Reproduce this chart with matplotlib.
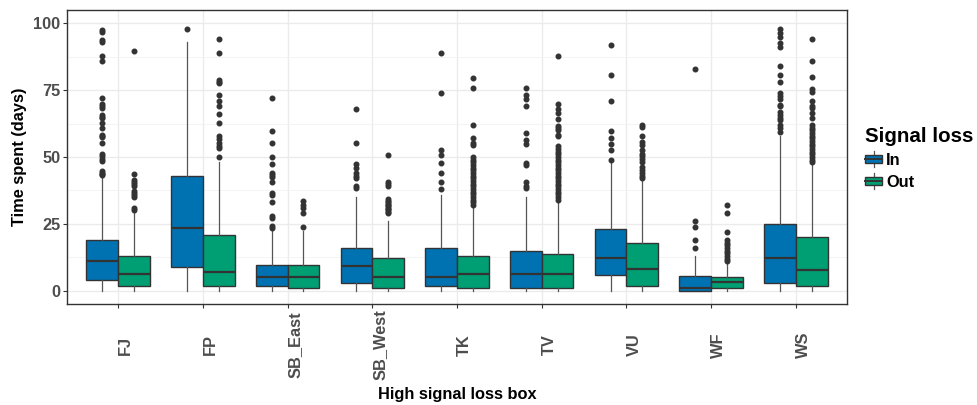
import matplotlib
matplotlib.use('Agg')
import matplotlib.pyplot as plt
from matplotlib.legend_handler import HandlerBase
from matplotlib.patches import Patch, Rectangle
from matplotlib.lines import Line2D
from matplotlib.ticker import MultipleLocator

plt.rcParams['font.family'] = ['Liberation Sans', 'DejaVu Sans']
plt.rcParams['font.weight'] = 'bold'

boxes = ['FJ', 'FP', 'SB_East', 'SB_West', 'TK', 'TV', 'VU', 'WF', 'WS']
groups = ['In', 'Out']
fill = {'In': '#0072B2', 'Out': '#009E73'}

# (whisker low, q1, median, q3, whisker high) in days
in_stats = [
    (0, 4.0, 11.2, 19.0, 42.3),
    (0, 8.8, 23.4, 43.0, 92.9),
    (0, 1.9, 5.2, 9.7, 22.8),
    (0, 3.0, 9.1, 15.8, 34.9),
    (0, 1.9, 5.2, 15.8, 35.9),
    (0, 0.9, 6.1, 14.8, 34.9),
    (0, 5.9, 12.2, 22.9, 47.7),
    (0, 0.0, 1.0, 5.4, 13.1),
    (0, 2.9, 12.2, 24.9, 57.9),
]
out_stats = [
    (0, 1.9, 6.1, 12.8, 29.0),
    (0, 1.9, 7.1, 21.0, 48.1),
    (0, 0.9, 5.2, 9.7, 22.5),
    (0, 0.9, 5.2, 12.1, 26.0),
    (0, 0.9, 6.1, 12.8, 31.4),
    (0, 0.9, 6.1, 13.8, 33.4),
    (0, 1.9, 8.1, 17.7, 41.5),
    (0, 0.9, 3.2, 5.1, 10.5),
    (0, 1.6, 7.8, 20.0, 47.4),
]

in_fliers = [
    [97.5, 96.9, 93.8, 93.2, 87.9, 85.9, 71.9, 69.7, 69.1, 68.5, 65.8, 65.1, 64.5, 62.9,
     61.0, 58.2, 57.9, 57.3, 55.2, 51.1, 50.2, 49.2, 48.6, 44.6, 44.0, 43.6, 43.1],
    [97.8],
    [71.9, 59.9, 55.2, 49.9, 47.2, 44.0, 43.4, 42.7, 40.8, 36.5, 35.6, 33.0, 27.8, 27.1,
     24.3, 23.5],
    [68.0, 55.2, 47.4, 45.8, 44.0, 43.0, 42.1, 39.0, 38.4],
    [88.8, 74.0, 52.8, 50.9, 47.9, 44.0, 40.8, 38.0],
    [76.0, 73.2, 71.6, 68.9, 58.9, 56.4, 54.9, 47.9, 47.1, 40.8, 39.0, 38.4],
    [92.0, 80.8, 70.9, 59.9, 57.0, 54.9, 52.8, 48.9],
    [82.9, 25.9, 23.8, 18.8, 15.9],
    [97.9, 96.5, 94.8, 92.8, 91.0, 84.2, 80.7, 78.0, 74.1, 73.0, 71.6, 69.5, 68.9, 67.0,
     65.8, 64.5, 63.9, 62.0, 60.8, 59.5],
]
out_fliers = [
    [89.8, 43.8, 41.3, 40.5, 39.8, 39.0, 37.1, 36.5, 35.8, 35.2, 30.9, 30.2],
    [94.0, 88.8, 78.8, 78.2, 77.6, 73.2, 70.9, 68.9, 66.0, 62.8, 57.9, 56.7, 55.2, 54.3,
     53.4, 49.9],
    [33.4, 32.0, 31.0, 29.0, 23.9],
    [50.9, 40.5, 40.0, 39.3, 34.2, 33.5, 33.0, 32.5, 32.0, 31.5, 31.0, 30.5, 30.0, 29.5,
     29.0],
    [79.7, 75.8, 61.8, 57.0, 55.2, 54.4, 50, 49, 48, 47, 46, 45, 44, 43, 42, 41, 40, 39,
     38, 37, 36, 35, 34, 33, 32],
    [87.8, 69.9, 68.0, 66.4, 64.1, 61.6, 60.8, 60.1, 58.2, 57.7, 54, 53, 52, 51, 50, 49,
     48, 47, 46, 45, 44, 43, 42, 41, 40, 39, 38, 37, 36, 35, 34],
    [61.9, 61.3, 58.0, 55.7, 54.5, 52.6, 51.3, 50.3, 49.3, 48.3, 46.4, 45.0, 44.0, 43.0,
     42.0],
    [32.1, 29.0, 21.9, 19, 18, 17, 16, 15, 14, 13, 12, 11.2],
    [94.0, 85.9, 79.8, 75.3, 74.5, 71.0, 69.1, 68.2, 66.4, 64.5, 62, 61, 60, 59, 58, 57,
     56, 55, 54, 53, 52, 51, 50, 49, 48],
]

DARK = '#333333'


class BoxKey(HandlerBase):
    # small boxplot glyph for the legend keys
    def create_artists(self, legend, orig_handle, xdescent, ydescent, width, height,
                       fontsize, trans):
        x0, y0 = -xdescent, -ydescent
        cx = x0 + width / 2
        whisk = Line2D([cx, cx], [y0 - 0.1 * height, y0 + 1.1 * height],
                       color='#555555', lw=0.9, transform=trans)
        box = Rectangle((x0, y0 + 0.2 * height), width, 0.6 * height,
                        facecolor=orig_handle.get_facecolor(), edgecolor=DARK, lw=1.0,
                        transform=trans)
        med = Line2D([x0, x0 + width], [y0 + 0.5 * height] * 2, color=DARK, lw=1.4,
                     transform=trans)
        return [whisk, box, med]


def make_stats(summary, fliers):
    lo, q1, med, q3, hi = summary
    return dict(whislo=lo, q1=q1, med=med, q3=q3, whishi=hi, fliers=fliers)


fig = plt.figure(figsize=(9.77, 4.05), dpi=100)
ax = fig.add_axes([67.3 / 977, 1 - 304 / 405, 779.4 / 977, 294 / 405])

width = 0.375
for g, stats, fl in [('In', in_stats, in_fliers), ('Out', out_stats, out_fliers)]:
    shift = -width / 2 if g == 'In' else width / 2
    pos = [i + 1 + shift for i in range(len(boxes))]
    bstats = [make_stats(s, f) for s, f in zip(stats, fl)]
    ax.bxp(bstats, positions=pos, widths=width, patch_artist=True, showcaps=False,
           boxprops=dict(facecolor=fill[g], edgecolor=DARK, linewidth=1.0),
           medianprops=dict(color=DARK, linewidth=1.6),
           whiskerprops=dict(color='#555555', linewidth=0.9),
           flierprops=dict(marker='o', markerfacecolor=DARK, markeredgecolor=DARK,
                           markersize=3.3, linestyle='none'))

ax.set_xlim(0.4, 9.6)
ax.set_ylim(-5, 105)
ax.set_xticks(range(1, len(boxes) + 1))
ax.set_xticklabels(boxes, rotation=90, ha='left', va='center')
ax.yaxis.set_major_locator(MultipleLocator(25))
ax.yaxis.set_minor_locator(MultipleLocator(12.5))
ax.set_axisbelow(True)
ax.grid(which='major', color='#EBEBEB', lw=1.0)
ax.grid(which='minor', axis='y', color='#F3F3F3', lw=0.6)
ax.tick_params(which='minor', length=0)
ax.tick_params(which='major', length=2.7, width=0.8, color=DARK, labelcolor='#4D4D4D',
               labelsize=11.8)
ax.tick_params(axis='y', pad=2.2)
ax.tick_params(axis='x', pad=26.8)
for s in ax.spines.values():
    s.set_color(DARK)
    s.set_linewidth(1.0)

ax.set_xlabel('High signal loss box', fontsize=11.8, fontweight='bold', color='black',
              va='center')
ax.xaxis.set_label_coords(0.5, (304 - 395) / 294)
ax.set_ylabel('Time spent (days)', fontsize=11.8, fontweight='bold', color='black',
              va='center')
ax.yaxis.set_label_coords((20 - 67.3) / 779.4, 0.5)

handles = [Patch(facecolor=fill[g], label=g) for g in groups]
leg = fig.legend(handles=handles, title='Signal loss', loc='upper left',
                 bbox_to_anchor=(865 / 977, 1 - 127 / 405), frameon=False,
                 handler_map={Patch: BoxKey()}, fontsize=11.8,
                 title_fontproperties={'weight': 'bold', 'size': 14.8},
                 alignment='left', borderpad=0, borderaxespad=0, handlelength=1.05,
                 handleheight=0.85, handletextpad=0.25, labelspacing=0.4)

fig.savefig('out.png', dpi=100)
